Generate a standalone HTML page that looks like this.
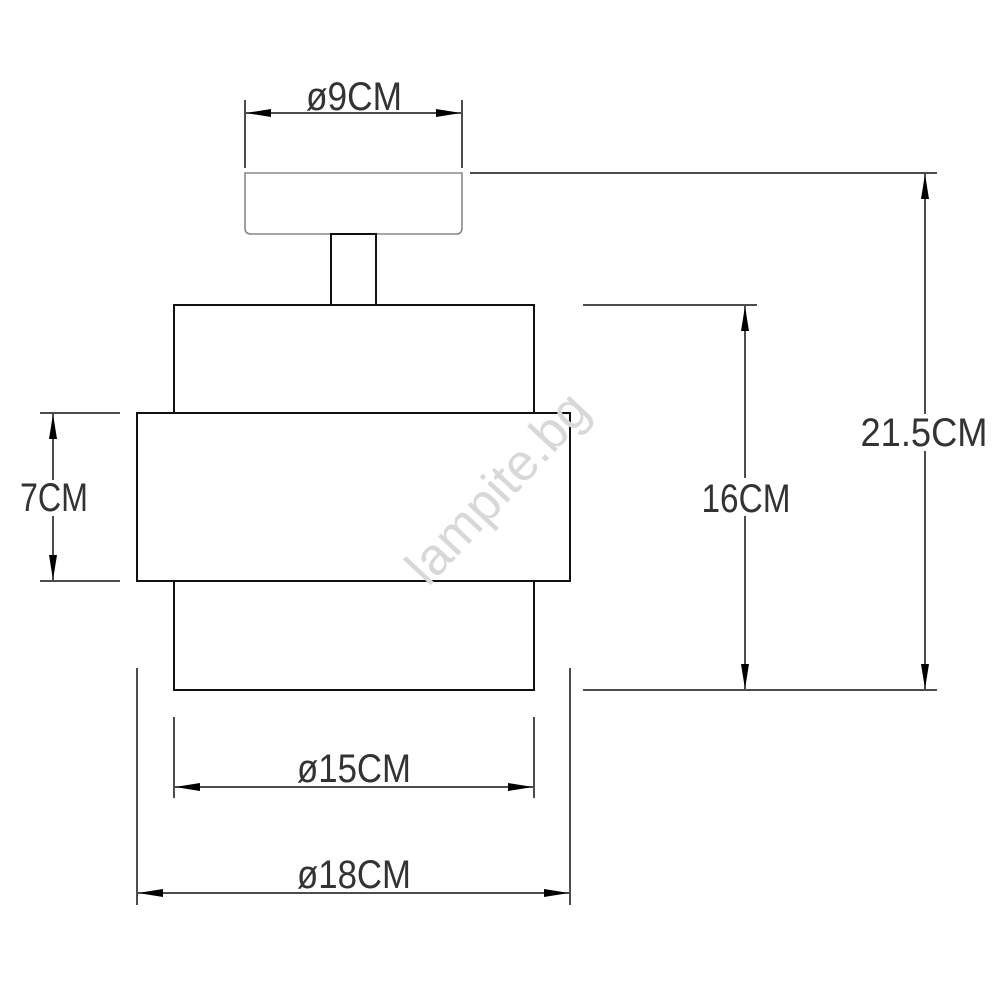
<!DOCTYPE html>
<html><head><meta charset="utf-8"><style>
html,body{margin:0;padding:0;background:#fff;}
svg{display:block;}
text{font-family:"Liberation Sans",sans-serif;fill:#333;}
</style></head><body>
<svg width="1000" height="1000" viewBox="0 0 1000 1000" xmlns="http://www.w3.org/2000/svg">
<defs>
<marker id="a" viewBox="0 0 25 8" refX="25" refY="4" markerWidth="25" markerHeight="8" markerUnits="userSpaceOnUse" orient="auto-start-reverse"><path d="M0,0 L25,4 L0,8 Z" fill="#000"/></marker>
</defs>
<g fill="none" stroke="#111" stroke-width="2">
<path d="M245,173 H462 V228 Q462,234 456,234 H251 Q245,234 245,228 Z" stroke="#888" stroke-width="1.6"/>
<rect x="331" y="234" width="45" height="71"/>
<path d="M174,413 V305 H534 V413"/>
<rect x="137" y="413" width="433" height="168"/>
<path d="M174,581 V690 H534 V581"/>
</g>
<text x="510" y="500" font-size="52" style="fill:#d8d8d8" text-anchor="middle" transform="rotate(-47 510 500)">lampite.bg</text>
<g stroke="#111" stroke-width="1.5" fill="none">
<line x1="245" y1="100" x2="245" y2="168"/><line x1="462" y1="100" x2="462" y2="168"/>
<line x1="246" y1="113" x2="461" y2="113" marker-start="url(#a)" marker-end="url(#a)"/>
<line x1="174" y1="717" x2="174" y2="798"/><line x1="534" y1="717" x2="534" y2="798"/>
<line x1="175" y1="787" x2="533" y2="787" marker-start="url(#a)" marker-end="url(#a)"/>
<line x1="137" y1="668" x2="137" y2="905"/><line x1="570" y1="668" x2="570" y2="905"/>
<line x1="138" y1="893" x2="569" y2="893" marker-start="url(#a)" marker-end="url(#a)"/>
<line x1="40" y1="413" x2="120" y2="413"/><line x1="40" y1="581" x2="120" y2="581"/>
<line x1="53" y1="414" x2="53" y2="580" marker-start="url(#a)" marker-end="url(#a)"/>
<line x1="583" y1="305" x2="757" y2="305"/><line x1="583" y1="690" x2="937" y2="690"/>
<line x1="745" y1="306" x2="745" y2="689" marker-start="url(#a)" marker-end="url(#a)"/>
<line x1="470" y1="173" x2="937" y2="173"/>
<line x1="925" y1="174" x2="925" y2="689" marker-start="url(#a)" marker-end="url(#a)"/>
</g>
<g fill="#fff">
<rect x="18" y="480" width="72" height="36"/>
<rect x="700" y="478" width="93" height="38"/>
<rect x="859" y="414" width="131" height="37"/>
</g>
<g font-size="40" text-anchor="middle">
<text x="354" y="110" textLength="96" lengthAdjust="spacingAndGlyphs">ø9CM</text>
<text x="354" y="782" textLength="114" lengthAdjust="spacingAndGlyphs">ø15CM</text>
<text x="354" y="888" textLength="114" lengthAdjust="spacingAndGlyphs">ø18CM</text>
<text x="54" y="511" textLength="68" lengthAdjust="spacingAndGlyphs">7CM</text>
<text x="746" y="512" textLength="89" lengthAdjust="spacingAndGlyphs">16CM</text>
<text x="924" y="446" textLength="127" lengthAdjust="spacingAndGlyphs">21.5CM</text>
</g>
</svg>
</body></html>
